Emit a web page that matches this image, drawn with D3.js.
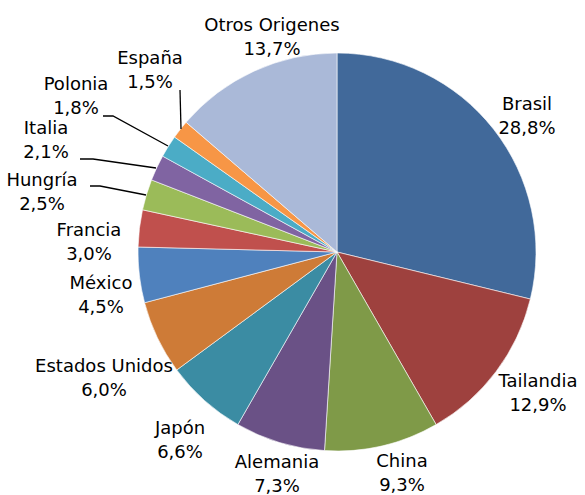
<!DOCTYPE html>
<html><head><meta charset="utf-8">
<script src="https://cdn.jsdelivr.net/npm/d3@7"></script>
<style>body{margin:0;background:#fff}svg text{font-family:"DejaVu Sans",sans-serif;font-size:18px;fill:#000}</style>
</head><body><svg id="c" width="585" height="495"></svg>
<script>
const categories = ["Brasil","Tailandia","China","Alemania","Japón","Estados Unidos","México","Francia","Hungría","Italia","Polonia","España","Otros Origenes"];
const values = [28.8,12.9,9.3,7.3,6.6,6.0,4.5,3.0,2.5,2.1,1.8,1.5,13.7];
const labels = ["28,8%","12,9%","9,3%","7,3%","6,6%","6,0%","4,5%","3,0%","2,5%","2,1%","1,8%","1,5%","13,7%"];
const colors = ["#41699A","#9E413E","#7F9A48","#6A5186","#3B8CA3","#CE7B37","#4F81BD","#C0504D","#9BBB59","#8064A2","#4BACC6","#F79646","#AAB9D8"];
const labelPos = [[527,104],[538,381],[402,461],[277,462],[180,428],[104,366],[101,283],[89,230],[42,180],[46,128],[76,84],[150,58],[272,25]];
const leaders = {11:[[180,90],[181,129]],10:[[103,116],[113,116],[168,146]],9:[[80,159],[93,159],[156,168]],8:[[90,186],[100,186],[146,195]]};

const svg = d3.select("#c");
const cx = 337, cy = 252, r = 199;
const data = categories.map((c,i)=>({c,v:values[i],l:labels[i],i}));
const pie = d3.pie().value(d=>d.v).sort(null);
const arc = d3.arc().innerRadius(0).outerRadius(r);
const g = svg.append("g").attr("transform",`translate(${cx},${cy})`);
g.selectAll("path").data(pie(data)).join("path")
  .attr("d",arc).attr("fill",d=>colors[d.data.i])
  .attr("stroke","#fff").attr("stroke-width",0.6);
Object.entries(leaders).forEach(([k,pts])=>{
  svg.append("path").attr("d",d3.line()(pts)).attr("fill","none").attr("stroke","#000").attr("stroke-width",1.3);
});
data.forEach((d,i)=>{
  const [x,y] = labelPos[i];
  const t = svg.append("text").attr("text-anchor","middle");
  t.append("tspan").attr("x",x).attr("y",y+6).text(d.c);
  t.append("tspan").attr("x",x).attr("y",y+30).text(d.l);
});
</script></body></html>
